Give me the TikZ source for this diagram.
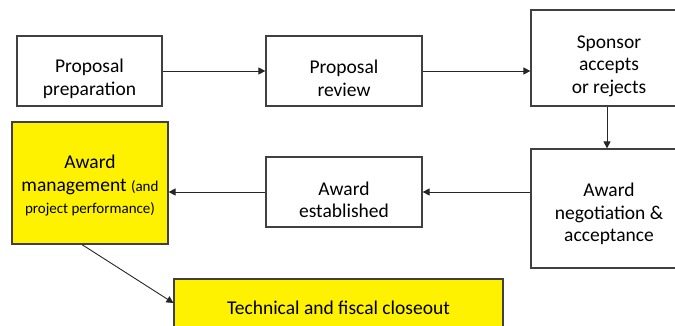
\documentclass[tikz,border=0pt]{standalone}
\usepackage{fontspec}
\setmainfont{Carlito}
\usetikzlibrary{arrows.meta}
\definecolor{boxline}{HTML}{404040}
\tikzset{
  box/.style={draw=boxline, line width=1.2pt, fill=white, inner sep=0pt},
  ybox/.style={box, fill=yellow},
  txt/.style={align=center, inner sep=0pt, font=\fontsize{19.5}{22.5}\selectfont, text=black},
  conn/.style={draw=black!85, line width=0.9pt, -{Triangle[width=7pt,length=7pt]}}
}
\begin{document}
\begin{tikzpicture}[x=1pt,y=-1pt]
\useasboundingbox (0,0) rectangle (675,326);
\clip (0,0) rectangle (675,326);
\node[box, minimum width=145pt, minimum height=70pt] (b1) at (89.5,71) {};
\node[box, minimum width=156pt, minimum height=70pt] (b2) at (344,71) {};
\node[box, minimum width=156pt, minimum height=96pt] (b3) at (609,58) {};
\node[box, minimum width=156pt, minimum height=119pt] (b4) at (609,208.5) {};
\node[box, minimum width=156pt, minimum height=70pt] (b5) at (344,192) {};
\node[ybox, minimum width=156pt, minimum height=122pt] (b6) at (90,183) {};
\node[ybox, minimum width=329pt, minimum height=60pt] (b7) at (338.5,309) {};
\node[txt] (t1) at (89.5,79) {Proposal\\preparation};
\node[txt] (t2) at (344,78.5) {Proposal\\review};
\node[txt] (t3) at (609,66) {Sponsor\\accepts\\or rejects};
\node[txt] (t4) at (609,214) {Award\\negotiation \&\\acceptance};
\node[txt] (t5) at (344,200) {Award\\established};
\node[txt] (t6) at (90,186) {Award\\management {\fontsize{15}{22.5}\selectfont(and}\\{\fontsize{15}{18}\selectfont project performance)}};
\node[txt] (t7) at (338.5,308) {Technical and fiscal closeout};
\draw[conn] (b1) -- (b2);
\draw[conn] (b2) -- (b2 -| b3.west);
\draw[conn] ([xshift=-2pt]b3.south) -- ([xshift=-2pt]b4.north);
\draw[conn] (b4.west |- b5) -- (b5);
\draw[conn] (b5) -- (b5 -| b6.east);
\draw[conn] ([xshift=-8pt]b6.south) -- ([yshift=6pt]b7.west);
\end{tikzpicture}
\end{document}
